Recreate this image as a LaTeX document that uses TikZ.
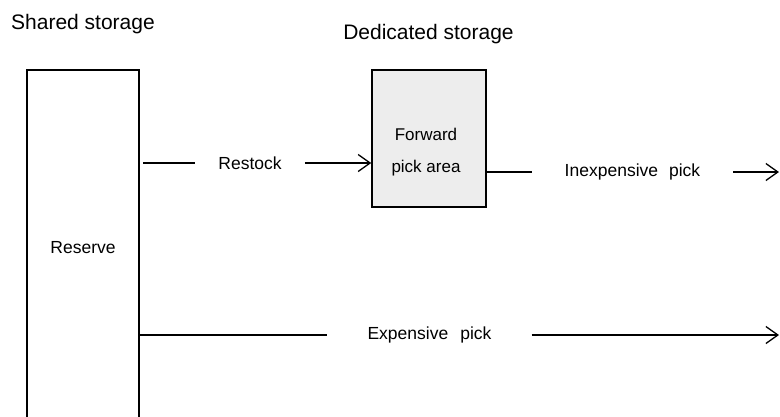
\documentclass[tikz,border=0pt]{standalone}
\usepackage{fontspec}
\setmainfont{Liberation Sans}
\usetikzlibrary{arrows.meta}
\begin{document}
\begin{tikzpicture}[x=1pt,y=-1pt,
  header/.style={font=\fontsize{21}{25}\selectfont, inner sep=0pt},
  body/.style={font=\fontsize{17.5}{21}\selectfont, inner ysep=0pt},
  edge/.style={line width=1.3pt, black},
  arr/.style={edge, -{Straight Barb[length=12pt,width=17pt,line width=1.3pt]}},
  boxline/.style={line width=1.5pt, black}]
\useasboundingbox (0,0) rectangle (780,416);
\fill[white] (0,0) rectangle (780,416);

\node[header] (shared) at (83,24) {Shared storage};
\node[header] (dedicated) at (428.5,34.5) {Dedicated storage};

% Reserve (open at bottom)
\node[minimum width=112pt, minimum height=355pt, inner sep=0pt, body] (reserve) at (83,247.5) {Reserve};
\draw[boxline] (reserve.south west) -- (reserve.north west) -- (reserve.north east) -- (reserve.south east);

% Forward pick area
\node[boxline, draw, fill=black!7, minimum width=114pt, minimum height=137pt, inner sep=0pt] (fwd) at (429,138.5) {};
\node[font=\fontsize{17}{32}\selectfont, align=center, inner sep=0pt] (fwdtext) at (426,152) {Forward\\pick area};

% Restock
\node[body, inner xsep=23pt] (restock) at (250,163) {Restock};
\draw[edge, shorten <=4pt] (reserve.east |- restock) -- (restock.west);
\draw[arr] (restock.east) -- (fwd.west |- restock);

% Inexpensive pick
\node[body, inner xsep=33pt] (inexp) at (632.5,172) {Inexpensive\hspace{11pt}pick};
\coordinate (end1) at (779,172);
\draw[edge] (fwd.east |- inexp) -- (inexp.west);
\draw[arr] (inexp.east) -- (end1);

% Expensive pick
\node[body, inner xsep=40pt] (exp) at (429.5,335) {Expensive\hspace{12pt}pick};
\coordinate (end2) at (779,335);
\draw[edge] (reserve.east |- exp) -- (exp.west);
\draw[arr] (exp.east) -- (end2);
\end{tikzpicture}
\end{document}
